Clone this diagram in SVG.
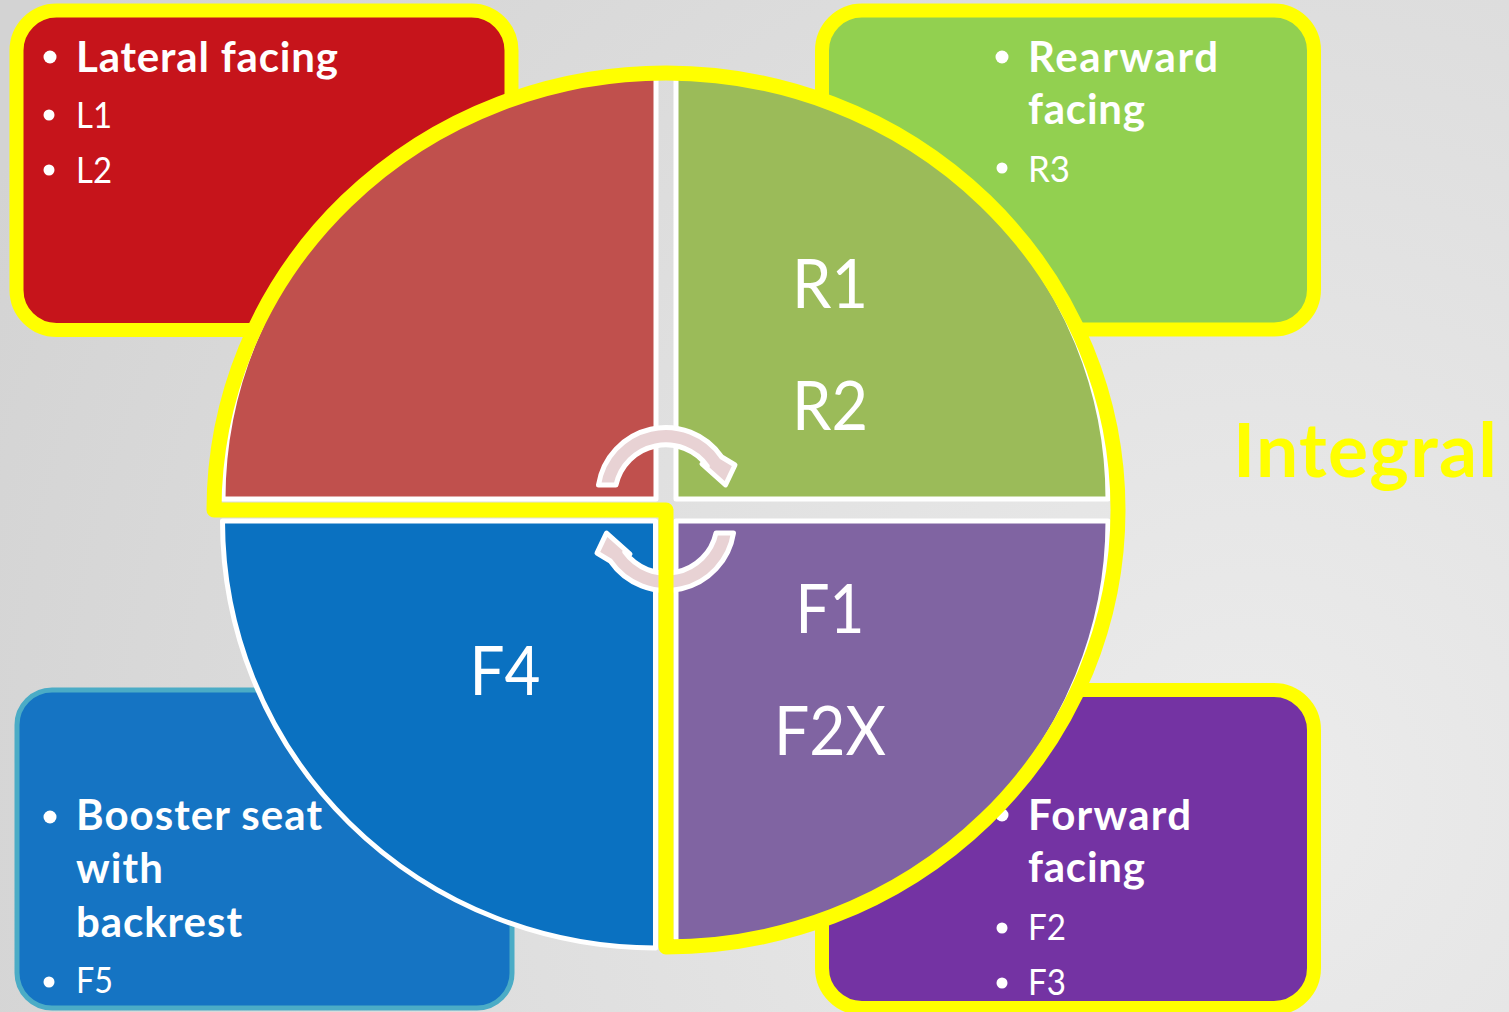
<svg xmlns="http://www.w3.org/2000/svg" width="1509" height="1012" viewBox="0 0 1509 1012">
<defs>
<radialGradient id="bg" cx="1250" cy="800" r="1400" gradientUnits="userSpaceOnUse">
<stop offset="0" stop-color="#ECECEC"/><stop offset="1" stop-color="#D3D3D3"/>
</radialGradient>
<style>
.t{font-family:Lato,'Open Sans','Liberation Sans',sans-serif;fill:#fff}
.b{font-weight:700;font-size:42px}
.r{font-weight:400;font-size:36px}
.q{font-weight:400;font-size:68px}
.ig{font-family:Lato,'Open Sans','Liberation Sans',sans-serif;font-weight:700;font-size:75px;fill:#FFFF00}
.dot{fill:#fff}
.quad{stroke:#fff;stroke-width:5;stroke-linejoin:round}
.arrow{fill:#E8D2D4;stroke:#fff;stroke-width:5;stroke-linejoin:round}
.ring{fill:none;stroke:#FFFF00;stroke-width:15;stroke-linejoin:round}
.boxy{stroke:#FFFF00;stroke-width:14}
</style>
</defs>
<rect x="0" y="0" width="1509" height="1012" fill="url(#bg)"/>

<g id="box-lateral">
<rect class="boxy" x="16.5" y="10.5" width="495" height="319.5" rx="40" fill="#C6141B"/>
<circle class="dot" cx="50" cy="57" r="6.5"/>
<text class="t b" x="76" y="72" textLength="262">Lateral facing</text>
<circle class="dot" cx="49" cy="115" r="5.5"/>
<text class="t r" x="76" y="128" textLength="36" lengthAdjust="spacingAndGlyphs">L1</text>
<circle class="dot" cx="49" cy="170" r="5.5"/>
<text class="t r" x="76" y="183" textLength="36" lengthAdjust="spacingAndGlyphs" style="font-kerning:none">L2</text>
</g>

<g id="box-rearward">
<rect class="boxy" x="822" y="10.5" width="492" height="319" rx="40" fill="#92D050"/>
<circle class="dot" cx="1002" cy="57" r="6.5"/>
<text class="t b" x="1028" y="72" textLength="190">Rearward</text>
<text class="t b" x="1028" y="124" textLength="117">facing</text>
<circle class="dot" cx="1002" cy="168" r="5.5"/>
<text class="t r" x="1028" y="182" textLength="42" lengthAdjust="spacingAndGlyphs">R3</text>
</g>

<g id="box-booster">
<rect x="17" y="690" width="495" height="318" rx="35" fill="#1574C3" stroke="#4BACC6" stroke-width="5"/>
<circle class="dot" cx="50" cy="817" r="6.5"/>
<text class="t b" x="76" y="830" textLength="246">Booster seat</text>
<text class="t b" x="76" y="883" textLength="87">with</text>
<text class="t b" x="76" y="937" textLength="166">backrest</text>
<circle class="dot" cx="49" cy="982" r="5.5"/>
<text class="t r" x="76" y="993" textLength="37" lengthAdjust="spacingAndGlyphs">F5</text>
</g>

<g id="box-forward">
<rect class="boxy" x="822" y="690" width="492" height="318" rx="40" fill="#7433A3"/>
<circle class="dot" cx="1002" cy="815" r="6.5"/>
<text class="t b" x="1028" y="830" textLength="163">Forward</text>
<text class="t b" x="1028" y="882" textLength="117">facing</text>
<circle class="dot" cx="1002" cy="928" r="5.5"/>
<text class="t r" x="1028" y="940" textLength="38" lengthAdjust="spacingAndGlyphs">F2</text>
<circle class="dot" cx="1002" cy="983" r="5.5"/>
<text class="t r" x="1028" y="995" textLength="38" lengthAdjust="spacingAndGlyphs">F3</text>
</g>

<g id="quad-lateral">
<path class="quad" fill="#C0504D" d="M656,499 L223,499 A433,422 0 0 1 656,77 Z"/>
</g>
<g id="quad-rearward">
<path class="quad" fill="#9BBB59" d="M676,499 L676,77 A432,422 0 0 1 1108,499 Z"/>
<text class="t q" x="830" y="308" text-anchor="middle" textLength="76" lengthAdjust="spacingAndGlyphs">R1</text>
<text class="t q" x="830" y="430" text-anchor="middle" textLength="76" lengthAdjust="spacingAndGlyphs">R2</text>
</g>
<g id="quad-booster">
<path class="quad" fill="#0A71C1" d="M655.5,521 L655.5,948 A433,427 0 0 1 222.5,521 Z"/>
<text class="t q" x="505" y="695" text-anchor="middle" textLength="71" lengthAdjust="spacingAndGlyphs">F4</text>
</g>
<g id="quad-forward">
<path class="quad" fill="#8064A2" d="M676,521 L1108,521 A432,421 0 0 1 676,942 Z"/>
<text class="t q" x="830" y="633" text-anchor="middle" textLength="69" lengthAdjust="spacingAndGlyphs">F1</text>
<text class="t q" x="830" y="755" text-anchor="middle" textLength="112" lengthAdjust="spacingAndGlyphs">F2X</text>
</g>

<g id="connectors">
<path class="arrow" d="M598.5,485 A68,68 0 0 1 721.7,457 L735,465 L725.5,485 L702,464 L707.3,466.2 A51,51 0 0 0 616,485 Z"/>
<path class="arrow" transform="rotate(180 666 509)" d="M598.5,485 A68,68 0 0 1 721.7,457 L735,465 L725.5,485 L702,464 L707.3,466.2 A51,51 0 0 0 616,485 Z"/>
</g>

<g id="integral-group">
<path class="ring" d="M214,510 A452,437 0 0 1 1118,510 A452,437 0 0 1 666,947 L666,510 Z"/>
<text class="ig" x="1233" y="477" textLength="264">Integral</text>
</g>
</svg>
